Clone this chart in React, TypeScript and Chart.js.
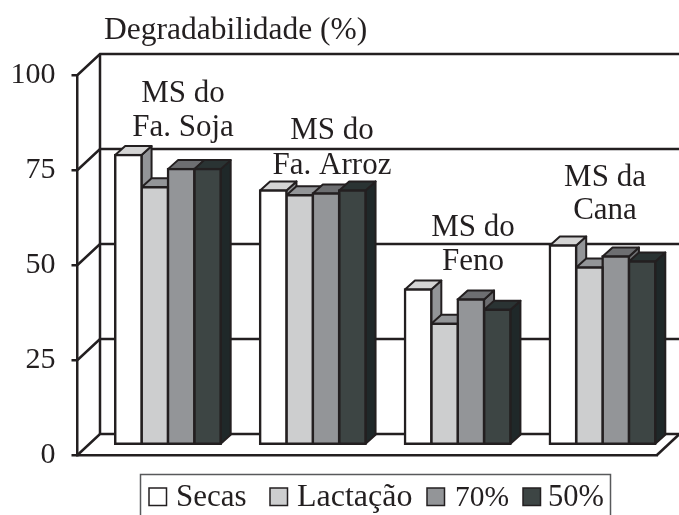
import React, { useEffect, useRef } from "react";
import { Chart, registerables } from "chart.js";

Chart.register(...registerables);

const categories = ["MS do Fa. Soja", "MS do Fa. Arroz", "MS do Feno", "MS da Cana"];
const categoryLines = [
  ["MS do", "Fa. Soja"],
  ["MS do", "Fa. Arroz"],
  ["MS do", "Feno"],
  ["MS da", "Cana"],
];
const secas = [76.3, 67, 40.9, 52.5];
const lactacao = [67.8, 65.7, 31.9, 46.7];
const umidade70 = [72.6, 66.2, 38.3, 49.6];
const umidade50 = [72.6, 67, 35.6, 48.3];
const seriesNames = ["Secas", "Lactação", "70%", "50%"];
const axisTitle = "Degradabilidade (%)";

const INK = "#231f20";
const FONT = '"Liberation Serif", serif';
const FRONT = ["#ffffff", "#cdcecf", "#939598", "#3d4544"];
const TOP = ["#d4d4d4", "#939598", "#6d6e71", "#2a3333"];
const SIDE = ["#939598", "#939598", "#6d6e71", "#1f2829"];

const WALL = { dx: 22.5, dy: -21 };
const PLANE = { dx: 18, dy: -10 };
const DEPTH = { dx: 10, dy: -9 };

const LABEL_POS = [
  { x: 183, y: [94, 128] },
  { x: 332, y: [131, 166] },
  { x: 473, y: [228, 262] },
  { x: 605, y: [178, 211] },
];
const LEGEND_SLOTS = [
  { box: 149, text: 176, size: 31 },
  { box: 270, text: 297, size: 32 },
  { box: 427, text: 455, size: 29.5 },
  { box: 523, text: 548, size: 30.5 },
];

function poly(ctx: CanvasRenderingContext2D, pts: number[][], fill: string) {
  ctx.beginPath();
  pts.forEach((p, i) => (i ? ctx.lineTo(p[0], p[1]) : ctx.moveTo(p[0], p[1])));
  ctx.closePath();
  ctx.fillStyle = fill;
  ctx.fill();
  ctx.strokeStyle = INK;
  ctx.lineWidth = 2;
  ctx.lineJoin = "round";
  ctx.stroke();
}

const frame3d = {
  id: "frame3d",
  beforeDatasetsDraw(chart: any) {
    const { ctx, scales, chartArea, width } = chart;
    const y = scales.y;
    ctx.save();
    ctx.strokeStyle = INK;
    ctx.lineWidth = 2.5;
    const left = chartArea.left;
    const backLeft = left + WALL.dx;
    for (const v of [0, 25, 50, 75, 100]) {
      const py = y.getPixelForValue(v);
      ctx.beginPath();
      ctx.moveTo(left, py);
      ctx.lineTo(backLeft, py + WALL.dy);
      ctx.lineTo(width, py + WALL.dy);
      ctx.stroke();
    }
    ctx.beginPath();
    ctx.moveTo(backLeft, y.getPixelForValue(0) + WALL.dy);
    ctx.lineTo(backLeft, y.getPixelForValue(100) + WALL.dy);
    ctx.stroke();
    ctx.beginPath();
    ctx.moveTo(chartArea.right, y.getPixelForValue(0));
    ctx.lineTo(chartArea.right + WALL.dx, y.getPixelForValue(0) + WALL.dy);
    ctx.stroke();
    ctx.restore();

    ctx.save();
    ctx.translate(PLANE.dx, PLANE.dy);
    const metas = chart.data.datasets.map((_: any, i: number) => chart.getDatasetMeta(i));
    categories.forEach((_, c) => {
      metas.forEach((meta: any, s: number) => {
        const b = meta.data[c];
        const l = b.x - b.width / 2;
        const r = b.x + b.width / 2;
        const t = b.y;
        const u = b.base;
        poly(ctx, [[r, t], [r + DEPTH.dx, t + DEPTH.dy], [r + DEPTH.dx, u + DEPTH.dy], [r, u]], SIDE[s]);
        poly(ctx, [[l, t], [l + DEPTH.dx, t + DEPTH.dy], [r + DEPTH.dx, t + DEPTH.dy], [r, t]], TOP[s]);
      });
    });
  },
  afterDatasetsDraw(chart: any) {
    const { ctx } = chart;
    ctx.restore();

    ctx.save();
    ctx.fillStyle = INK;
    ctx.font = `31px ${FONT}`;
    ctx.textBaseline = "middle";
    ctx.textAlign = "center";
    categoryLines.forEach((lines, i) => {
      lines.forEach((line, j) => ctx.fillText(line, LABEL_POS[i].x, LABEL_POS[i].y[j]));
    });
    ctx.textAlign = "left";
    ctx.font = `31.5px ${FONT}`;
    ctx.fillText(axisTitle, 104, 31);

    ctx.strokeStyle = "#58595b";
    ctx.lineWidth = 1.5;
    ctx.beginPath();
    ctx.moveTo(140.5, 515);
    ctx.lineTo(140.5, 474.5);
    ctx.lineTo(610.5, 474.5);
    ctx.lineTo(610.5, 515);
    ctx.stroke();

    ctx.textBaseline = "alphabetic";
    seriesNames.forEach((name, i) => {
      const slot = LEGEND_SLOTS[i];
      ctx.fillStyle = FRONT[i];
      ctx.fillRect(slot.box, 488, 17.5, 17.5);
      ctx.strokeStyle = INK;
      ctx.lineWidth = 1.5;
      ctx.strokeRect(slot.box, 488, 17.5, 17.5);
      ctx.fillStyle = INK;
      ctx.font = `${slot.size}px ${FONT}`;
      ctx.fillText(name, slot.text, 506);
    });
    ctx.restore();
  },
};

export default function App() {
  const ref = useRef<HTMLCanvasElement>(null);
  useEffect(() => {
    const series = [secas, lactacao, umidade70, umidade50];
    const chart = new Chart(ref.current!, {
      type: "bar",
      data: {
        labels: categories,
        datasets: series.map((data, i) => ({
          label: seriesNames[i],
          data,
          backgroundColor: FRONT[i],
          borderColor: INK,
          borderWidth: 2.5,
          borderSkipped: false,
          inflateAmount: 1.25,
          categoryPercentage: 0.728,
          barPercentage: 1,
          clip: false,
        })),
      } as any,
      options: {
        animation: false,
        responsive: false,
        events: [],
        layout: { padding: { top: 75, bottom: 52, left: 0, right: 22 } },
        plugins: { legend: { display: false }, title: { display: false }, tooltip: { enabled: false } },
        scales: {
          x: {
            grid: { display: false },
            ticks: { display: false },
            border: { display: true, color: INK, width: 2.5 },
          },
          y: {
            min: 0,
            max: 100,
            afterFit(scale: any) {
              scale.width = 77.5;
            },
            ticks: {
              stepSize: 25,
              padding: 16,
              color: INK,
              font: { family: FONT, size: 30 },
            },
            grid: { drawOnChartArea: false, drawTicks: true, tickLength: 6, color: INK, lineWidth: 2.5 },
            border: { display: true, color: INK, width: 2.5 },
          },
        },
      } as any,
      plugins: [frame3d],
    });
    return () => chart.destroy();
  }, []);
  return (
    <canvas
      ref={ref}
      width={679}
      height={515}
      style={{ position: "fixed", left: 0, top: 0, width: 679, height: 515, background: "#fff" }}
    />
  );
}
